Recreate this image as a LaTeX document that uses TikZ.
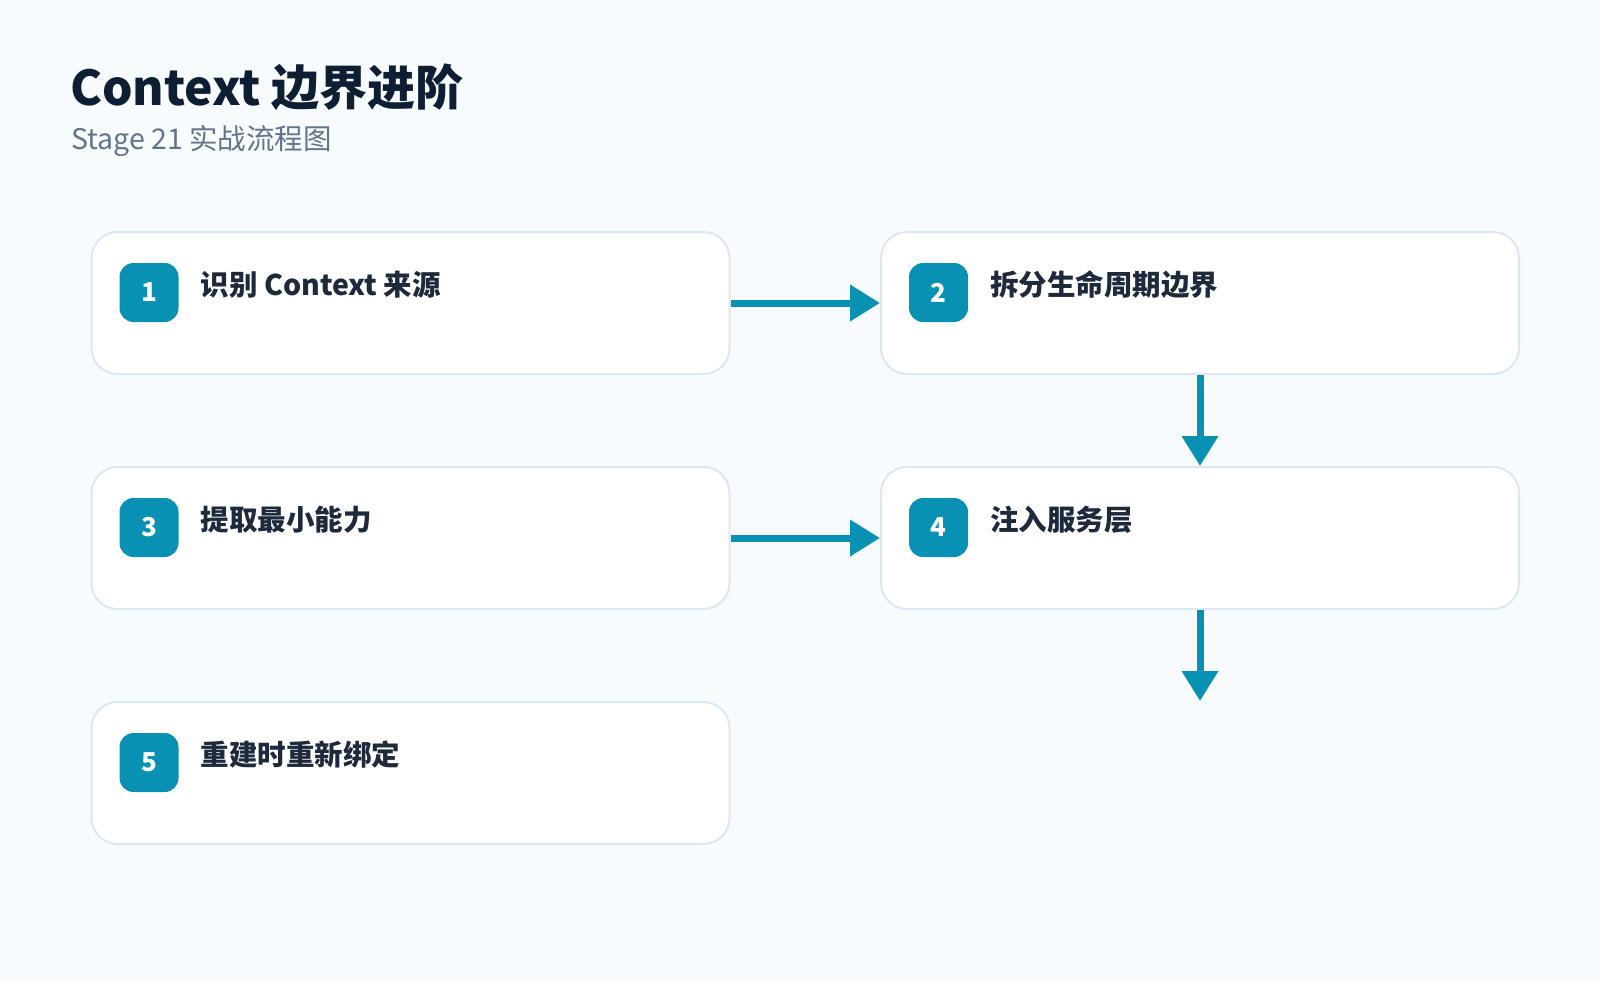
\documentclass[tikz,border=0pt]{standalone}
\usepackage{fontspec}
\setmainfont{Noto Sans CJK SC}
\usetikzlibrary{positioning, arrows.meta}
\definecolor{bgcol}{HTML}{F7FBFE}
\definecolor{edgecol}{HTML}{DCE7F3}
\definecolor{tealcol}{HTML}{0891B2}
\definecolor{inkcol}{HTML}{0F1F33}
\definecolor{subcol}{HTML}{64748B}
\definecolor{textcol}{HTML}{1E293B}

\begin{document}
\begin{tikzpicture}[x=1pt, y=-1pt, node distance=235pt and 789.5pt, on grid,
		stepbox/.style={draw=edgecol, line width=2pt, fill=white, rounded corners=26pt, minimum width=638pt, minimum height=142pt, inner sep=0pt},
		badge/.style={fill=tealcol, rounded corners=14pt, minimum size=59pt, inner sep=0pt, text=white, font=\fontsize{26}{26}\selectfont\bfseries},
		steptext/.style={anchor=base west, inner sep=0pt, text=textcol, font=\fontsize{28.5}{32}\selectfont\bfseries},
		flow/.style={color=tealcol, line width=7pt, -{Triangle[length=30pt, width=35pt]}}]
			\fill[bgcol] (0,0) rectangle (1600,980);

			\node[anchor=base west, inner sep=0pt, text=inkcol, font=\fontsize{48}{52}\selectfont\bfseries] (title) at (70,105) {Context 边界进阶};
			\node[anchor=base west, inner sep=0pt, text=subcol, font=\fontsize{28.5}{32}\selectfont] (sub) at (71,149) {Stage 21 实战流程图};

			\node[stepbox] (s1) at (410.5,303) {};
			\node[stepbox, right=of s1] (s2) {};
			\node[stepbox, below=of s1] (s3) {};
			\node[stepbox, below=of s2] (s4) {};
			\node[stepbox, below=of s3] (s5) {};
			\coordinate[below=91pt of s4.south] (s6);

			\node[badge] (b1) at ([xshift=58.5pt, yshift=-61.5pt]s1.north west) {1};
			\node[badge] (b2) at ([xshift=58.5pt, yshift=-61.5pt]s2.north west) {2};
			\node[badge] (b3) at ([xshift=58.5pt, yshift=-61.5pt]s3.north west) {3};
			\node[badge] (b4) at ([xshift=58.5pt, yshift=-61.5pt]s4.north west) {4};
			\node[badge] (b5) at ([xshift=58.5pt, yshift=-61.5pt]s5.north west) {5};

			\node[steptext] (t1) at ([xshift=110pt, yshift=-64pt]s1.north west) {识别 Context 来源};
			\node[steptext] (t2) at ([xshift=110pt, yshift=-64pt]s2.north west) {拆分生命周期边界};
			\node[steptext] (t3) at ([xshift=110pt, yshift=-64pt]s3.north west) {提取最小能力};
			\node[steptext] (t4) at ([xshift=110pt, yshift=-64pt]s4.north west) {注入服务层};
			\node[steptext] (t5) at ([xshift=110pt, yshift=-64pt]s5.north west) {重建时重新绑定};

			\draw[flow] (s1) edge (s2)
			(s2) edge (s4)
			(s3) edge (s4)
			(s4) edge (s6);

		\end{tikzpicture}
\end{document}
